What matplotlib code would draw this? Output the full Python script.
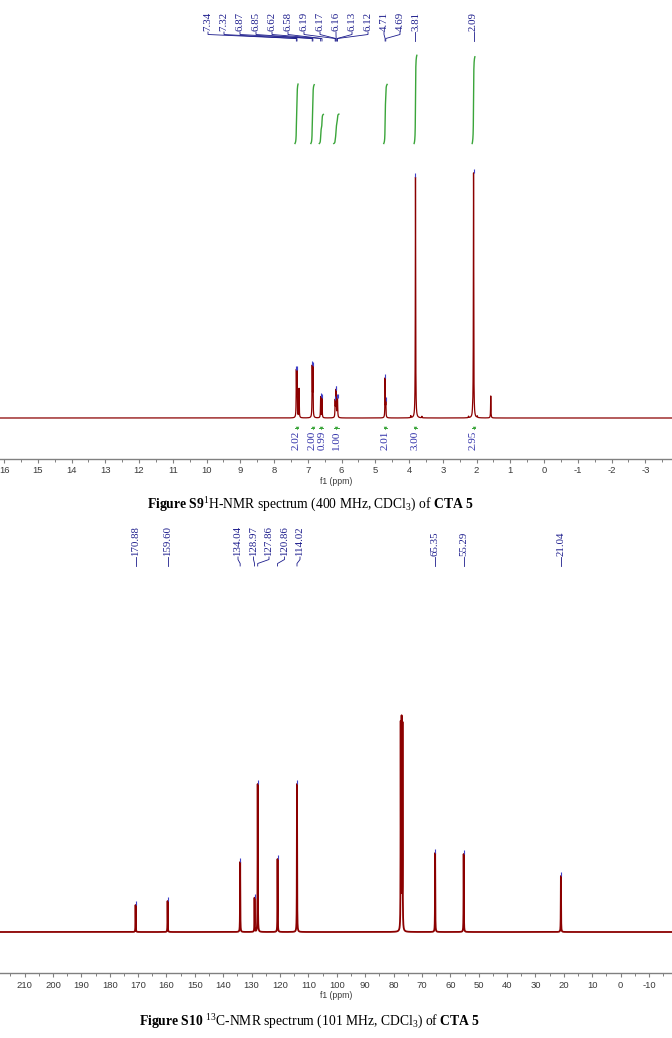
import numpy as np
import matplotlib
matplotlib.use("Agg")
import matplotlib.pyplot as plt

plt.rcParams['axes.unicode_minus'] = False
plt.rcParams['mathtext.fontset'] = 'custom'
plt.rcParams['mathtext.rm'] = 'Liberation Serif'
plt.rcParams['mathtext.bf'] = 'Liberation Serif:bold'
plt.rcParams['mathtext.it'] = 'Liberation Serif:italic'

# ---------------- data: 1H NMR (400 MHz, CDCl3) ----------------
h_shift = [7.34, 7.32, 7.26, 6.87, 6.85, 6.62, 6.58, 6.19, 6.17, 6.16, 6.13, 6.12,
           4.71, 4.69, 3.95, 3.81, 3.62, 2.24, 2.12, 2.09, 1.98, 1.58]
h_height = [45, 44, 29, 49, 48, 21, 20, 16, 21, 21, 15, 16,
            39, 14, 2, 241, 1.5, 1.5, 2.5, 245, 1.5, 22]
h_labels = ["7.34", "7.32", "6.87", "6.85", "6.62", "6.58", "6.19", "6.17", "6.16",
            "6.13", "6.12", "4.71", "4.69", "3.81", "2.09"]
h_int_value = [2.02, 2.00, 0.99, 1.00, 2.01, 3.00, 2.95]
h_int_from = [7.38, 6.91, 6.66, 6.23, 4.75, 3.85, 2.13]
h_int_to = [7.29, 6.81, 6.54, 6.08, 4.65, 3.77, 2.05]
h_ticks = list(range(16, -4, -1))

# ---------------- data: 13C NMR (101 MHz, CDCl3) ----------------
c_shift = [170.88, 159.60, 134.04, 128.97, 127.86, 120.86, 114.02,
           77.48, 77.16, 76.84, 65.35, 55.29, 21.04]
c_height = [27, 31, 70, 34, 148, 73, 148, 205, 207, 204, 79, 78, 56]
c_labels = ["170.88", "159.60", "134.04", "128.97", "127.86", "120.86", "114.02",
            "65.35", "55.29", "21.04"]
c_ticks = list(range(210, -20, -10))

# ---------------- style ----------------
W, H, DPI = 672, 1038, 100
SPEC = '#8b0000'
GREEN = '#3aa53a'
LBL = '#1c1c8c'
INTC = '#2e2ea8'
AXC = '#808080'
TICKC = '#3a3a3a'


def lorentz(x, shifts, heights, w):
    y = np.zeros_like(x)
    for s, h in zip(shifts, heights):
        y += h / (1.0 + ((x - s) / w) ** 2)
    return y


def make_axes(top_px, axis_px, base_px, xmin, xmax):
    ax = fig.add_axes([0, 1 - axis_px / H, 1, (axis_px - top_px) / H])
    ax.set_xlim(xmin, xmax)
    # 1 y-unit = 1 pixel; baseline at y = 0
    ax.set_ylim(-(axis_px - base_px), base_px - top_px)
    for s in ('left', 'right', 'top'):
        ax.spines[s].set_visible(False)
    ax.spines['bottom'].set_color(AXC)
    ax.spines['bottom'].set_linewidth(1.0)
    ax.set_yticks([])
    ax.tick_params(axis='x', which='major', direction='out', length=3.2, width=0.8,
                   color=AXC, labelsize=6.8, labelcolor=TICKC, pad=2.2)
    ax.tick_params(axis='x', which='minor', direction='out', length=1.8, width=0.7,
                   color=AXC)
    ax.patch.set_alpha(0)
    return ax


def px2ppm(ax, px):
    x0, x1 = ax.get_xlim()
    return x0 + (x1 - x0) * px / W


def ppm2px(ax, ppm):
    x0, x1 = ax.get_xlim()
    return (ppm - x0) / (x1 - x0) * W


def spread(px, gap, iters=200):
    """Push label pixel positions apart to at least `gap`."""
    p = np.array(px, dtype=float)
    for _ in range(iters):
        moved = False
        for i in range(len(p) - 1):
            d = p[i + 1] - p[i]
            if d < gap:
                sh = (gap - d) / 2 + 1e-6
                p[i] -= sh
                p[i + 1] += sh
                moved = True
        if not moved:
            break
    return p


def peak_labels(ax, shifts, labels, label_px, spec_fn, base_px, text_bottom_px):
    ytxt = base_px - text_bottom_px
    for s, lab, lpx in zip(shifts, labels, label_px):
        lx = px2ppm(ax, lpx)
        ax.text(lx, ytxt, lab, rotation=90, ha='center', va='bottom', fontsize=7.8,
                family='Liberation Serif', color=LBL)
        ax.plot([lx, lx, s, s], [ytxt - 1, ytxt - 3.5, ytxt - 7.5, ytxt - 10],
                color=LBL, lw=0.6, solid_joinstyle='miter')
        ax.plot([s], [spec_fn(s) + 1.5], marker='|', ms=2.5, mew=0.8,
                color='#4040c8')


fig = plt.figure(figsize=(W / DPI, H / DPI), dpi=DPI)

# ================= 1H panel =================
ax1 = make_axes(0, 459, 418, 16.12, -3.79)
ax1.set_xticks(h_ticks)
ax1.set_xticklabels([str(t) for t in h_ticks], family='Liberation Sans')
ax1.set_xticks(np.arange(-3.5, 16.5, 1.0), minor=True)

xh = np.linspace(16.12, -3.79, 80000)
wh = 0.006
yh = lorentz(xh, h_shift, h_height, wh)
ax1.plot(xh, yh, color=SPEC, lw=0.9)


def hspec(p):
    return lorentz(np.array([p]), h_shift, h_height, wh)[0]


h_label_shift = [float(l) for l in h_labels]
grp = 13
h_label_px = [208 + 16 * i for i in range(grp)] + \
             [ppm2px(ax1, s) for s in h_label_shift[grp:]]
peak_labels(ax1, h_label_shift, h_labels, h_label_px, hspec, 418, 31)

# integrals
int_base = 418 - 143.5
int_scale = 29.4
int_centers = [0.5 * (a + b) for a, b in zip(h_int_from, h_int_to)]
int_label_px = spread([ppm2px(ax1, c) for c in int_centers], 10.5)
for v, a, b, c, lpx in zip(h_int_value, h_int_from, h_int_to, int_centers, int_label_px):
    m = (xh <= a) & (xh >= b)
    xs = xh[m]
    cs = np.cumsum(yh[m])
    cs = (cs - cs[0]) / (cs[-1] - cs[0])
    ax1.plot(xs, int_base + cs * v * int_scale, color=GREEN, lw=1.0)
    ax1.plot([a, b], [-10, -10], color=GREEN, lw=0.7)
    ax1.plot([c], [-10.5], marker='v', ms=2.5, color=GREEN, mew=0)
    ax1.text(px2ppm(ax1, lpx), -13, f"{v:.2f}", rotation=90, ha='center', va='top',
             fontsize=8.0, family='Liberation Serif', color=INTC)

# ================= 13C panel =================
ax2 = make_axes(520, 973, 932, 218.65, -18.1)
ax2.set_xticks(c_ticks)
ax2.set_xticklabels([str(t) for t in c_ticks], family='Liberation Sans')
ax2.set_xticks(np.arange(-15, 220, 10), minor=True)

xc = np.linspace(218.65, -18.1, 80000)
wc = 0.05
yc = lorentz(xc, c_shift, c_height, wc)
ax2.plot(xc, yc, color=SPEC, lw=1.3)


def cspec(p):
    return lorentz(np.array([p]), c_shift, c_height, wc)[0]


c_label_shift = [float(l) for l in c_labels]
c_label_px = [ppm2px(ax2, s) for s in c_label_shift[:2]] + \
             [238 + 15.5 * i for i in range(5)] + \
             [ppm2px(ax2, s) for s in c_label_shift[7:]]
peak_labels(ax2, c_label_shift, c_labels, c_label_px, cspec, 932, 556)

# ================= text =================
for ypx in (481, 995):
    fig.text(336 / W, 1 - ypx / H, 'f1 (ppm)', ha='center', va='center', fontsize=6.2,
             family='Liberation Sans', color=TICKC)

fig.text(310 / W, 1 - 505 / H,
         r"$\mathbf{Figure\ S9}$$^{1}$H-NMR spectrum (400 MHz, CDCl$_{3}$) of $\mathbf{CTA\ 5}$",
         ha='center', va='center', fontsize=9.8, family='Liberation Serif', color='black')
fig.text(310 / W, 1 - 1022 / H,
         r"$\mathbf{Figure\ S10}$ $^{13}$C-NMR spectrum (101 MHz, CDCl$_{3}$) of $\mathbf{CTA\ 5}$",
         ha='center', va='center', fontsize=9.8, family='Liberation Serif', color='black')

fig.savefig('out.png', dpi=DPI, facecolor='white')
